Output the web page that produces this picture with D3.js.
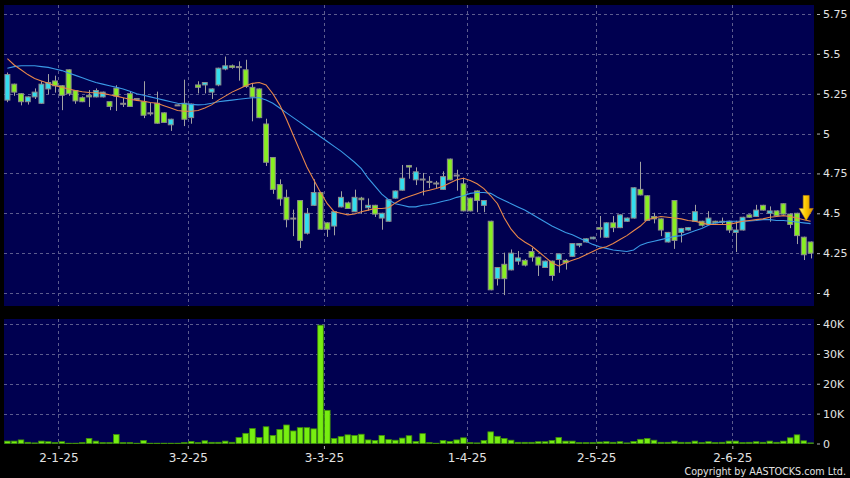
<!DOCTYPE html>
<html><head><meta charset="utf-8">
<script src="https://cdn.jsdelivr.net/npm/d3@7"></script>
<style>html,body{margin:0;padding:0;background:#000;} svg{display:block;}</style>
</head><body>
<svg id="chart" width="850" height="478"></svg>
<script>
// ---------- DATA ----------
const dates = [
"2024-12-18","2024-12-19","2024-12-20","2024-12-23","2024-12-24","2024-12-27","2024-12-30","2024-12-31",
"2025-01-02","2025-01-03","2025-01-06","2025-01-07","2025-01-08","2025-01-09","2025-01-10","2025-01-13","2025-01-14","2025-01-15","2025-01-16","2025-01-17","2025-01-20","2025-01-21","2025-01-22","2025-01-23","2025-01-24","2025-01-27","2025-01-28",
"2025-02-03","2025-02-04","2025-02-05","2025-02-06","2025-02-07","2025-02-10","2025-02-11","2025-02-12","2025-02-13","2025-02-14","2025-02-17","2025-02-18","2025-02-19","2025-02-20","2025-02-21","2025-02-24","2025-02-25","2025-02-26","2025-02-27","2025-02-28",
"2025-03-03","2025-03-04","2025-03-05","2025-03-06","2025-03-07","2025-03-10","2025-03-11","2025-03-12","2025-03-13","2025-03-14","2025-03-17","2025-03-18","2025-03-19","2025-03-20","2025-03-21","2025-03-24","2025-03-25","2025-03-26","2025-03-27","2025-03-28","2025-03-31",
"2025-04-01","2025-04-02","2025-04-03","2025-04-07","2025-04-08","2025-04-09","2025-04-10","2025-04-11","2025-04-14","2025-04-15","2025-04-16","2025-04-17","2025-04-22","2025-04-23","2025-04-24","2025-04-25","2025-04-28","2025-04-29","2025-04-30",
"2025-05-02","2025-05-06","2025-05-07","2025-05-08","2025-05-09","2025-05-12","2025-05-13","2025-05-14","2025-05-15","2025-05-16","2025-05-19","2025-05-20","2025-05-21","2025-05-22","2025-05-23","2025-05-26","2025-05-27","2025-05-28","2025-05-29","2025-05-30",
"2025-06-02","2025-06-03","2025-06-04","2025-06-05","2025-06-06","2025-06-09","2025-06-10","2025-06-11","2025-06-12","2025-06-13","2025-06-16","2025-06-17"];

const open = [5.21,5.31,5.25,5.20,5.23,5.19,5.28,5.33,5.30,5.40,
5.27,5.225,5.24,5.23,5.23,5.20,5.285,5.19,5.25,5.22,
5.20,5.13,5.19,5.13,5.055,5.18,5.19,5.10,5.305,5.305,
5.26,5.305,5.405,5.425,5.42,5.40,5.29,5.28,5.06,4.85,
4.68,4.60,4.47,4.58,4.375,4.55,4.63,4.44,4.42,4.54,
4.565,4.51,4.595,4.535,4.55,4.47,4.45,4.595,4.645,4.80,
4.71,4.715,4.70,4.69,4.65,4.84,4.74,4.685,4.595,4.64,
4.55,4.45,4.09,4.18,4.145,4.20,4.205,4.26,4.225,4.16,
4.20,4.21,4.205,4.23,4.30,4.32,4.34,4.41,4.35,4.44,
4.41,4.45,4.47,4.65,4.61,4.48,4.465,4.32,4.58,4.38,
4.395,4.45,4.45,4.43,4.45,4.45,4.45,4.38,4.395,4.49,
4.48,4.55,4.50,4.515,4.56,4.495,4.50,4.35,4.32];

const high = [5.38,5.31,5.25,5.23,5.28,5.325,5.37,5.36,5.30,5.40,
5.27,5.23,5.27,5.28,5.26,5.20,5.30,5.22,5.26,5.22,
5.325,5.19,5.26,5.13,5.09,5.18,5.335,5.185,5.325,5.32,
5.28,5.41,5.48,5.43,5.45,5.46,5.31,5.28,5.09,4.85,
4.71,4.645,4.52,4.58,4.53,4.71,4.63,4.44,4.51,4.635,
4.57,4.645,4.60,4.59,4.55,4.50,4.585,4.64,4.80,4.80,
4.785,4.75,4.73,4.70,4.76,4.84,4.77,4.72,4.595,4.64,
4.58,4.45,4.16,4.25,4.27,4.26,4.21,4.28,4.225,4.20,
4.20,4.245,4.21,4.31,4.31,4.34,4.35,4.48,4.44,4.48,
4.49,4.47,4.66,4.82,4.61,4.50,4.465,4.38,4.58,4.405,
4.41,4.55,4.45,4.51,4.45,4.47,4.45,4.45,4.475,4.49,
4.55,4.55,4.54,4.515,4.56,4.495,4.50,4.35,4.32];

const low = [5.20,5.24,5.18,5.185,5.22,5.19,5.25,5.26,5.15,5.24,
5.19,5.20,5.17,5.23,5.23,5.15,5.145,5.17,5.17,5.22,
5.10,5.115,5.065,5.07,5.02,5.18,5.05,5.065,5.255,5.255,
5.22,5.30,5.40,5.41,5.335,5.29,5.08,5.10,4.80,4.625,
4.55,4.415,4.36,4.285,4.37,4.55,4.40,4.355,4.365,4.54,
4.53,4.51,4.50,4.52,4.48,4.40,4.45,4.595,4.645,4.72,
4.68,4.615,4.66,4.66,4.65,4.71,4.645,4.515,4.515,4.51,
4.51,4.02,4.05,3.99,4.145,4.18,4.17,4.20,4.11,4.16,
4.08,4.13,4.15,4.23,4.29,4.32,4.34,4.35,4.35,4.385,
4.41,4.45,4.47,4.615,4.455,4.44,4.36,4.32,4.28,4.32,
4.395,4.45,4.42,4.43,4.44,4.43,4.38,4.26,4.395,4.475,
4.48,4.52,4.45,4.485,4.495,4.41,4.31,4.21,4.22];

const close = [5.37,5.26,5.20,5.23,5.26,5.31,5.32,5.30,5.24,5.25,
5.205,5.20,5.23,5.27,5.26,5.17,5.235,5.19,5.17,5.22,
5.115,5.13,5.065,5.07,5.09,5.18,5.09,5.185,5.29,5.32,
5.28,5.41,5.425,5.415,5.42,5.295,5.23,5.10,4.82,4.65,
4.59,4.46,4.47,4.33,4.50,4.63,4.40,4.40,4.51,4.60,
4.53,4.60,4.585,4.55,4.495,4.50,4.585,4.64,4.72,4.79,
4.76,4.715,4.70,4.69,4.73,4.71,4.74,4.515,4.515,4.58,
4.58,4.02,4.16,4.09,4.25,4.22,4.175,4.225,4.175,4.20,
4.11,4.245,4.19,4.31,4.31,4.34,4.35,4.40,4.44,4.41,
4.49,4.47,4.66,4.615,4.455,4.465,4.395,4.38,4.33,4.405,
4.41,4.51,4.425,4.47,4.44,4.45,4.395,4.395,4.475,4.475,
4.52,4.52,4.515,4.485,4.495,4.43,4.36,4.24,4.25];

const volume = [800,800,1200,400,200,800,600,300,600,100,
100,300,1700,800,300,300,3000,300,300,100,
1000,100,100,100,100,100,300,700,300,900,
400,400,800,400,2000,3400,5000,2000,5600,2700,
4700,6200,4200,5300,5300,4900,39600,11100,1700,2300,
2900,2700,3100,1200,1000,2700,1300,1100,1800,2600,
700,3300,300,100,1000,700,1200,1900,300,200,
1000,3900,2400,1700,1100,400,400,400,600,600,
1000,2000,800,800,300,300,300,500,600,400,
600,200,700,1400,1700,1100,400,400,800,400,
400,800,300,600,300,400,800,800,300,400,
600,400,800,400,800,1900,2900,900,200];

const ma10 = [5.47,5.43,5.40,5.37,5.345,5.33,5.315,5.30,5.29,5.28,
5.27,5.262,5.258,5.256,5.252,5.243,5.235,5.225,5.215,5.208,
5.203,5.195,5.19,5.175,5.16,5.145,5.14,5.14,5.145,5.16,
5.18,5.21,5.235,5.26,5.28,5.30,5.315,5.32,5.305,5.25,
5.18,5.09,4.99,4.89,4.79,4.71,4.63,4.56,4.51,4.50,
4.49,4.495,4.51,4.52,4.53,4.53,4.535,4.565,4.59,4.605,
4.62,4.635,4.645,4.655,4.67,4.69,4.71,4.72,4.705,4.685,
4.655,4.61,4.56,4.47,4.40,4.35,4.32,4.295,4.26,4.225,
4.19,4.17,4.19,4.205,4.22,4.24,4.26,4.28,4.29,4.31,
4.335,4.36,4.39,4.42,4.46,4.47,4.48,4.475,4.47,4.465,
4.455,4.45,4.44,4.43,4.43,4.43,4.43,4.44,4.45,4.455,
4.46,4.465,4.475,4.48,4.485,4.48,4.47,4.46,4.45];

const ma20 = [5.41,5.42,5.425,5.425,5.425,5.42,5.415,5.405,5.395,5.38,
5.365,5.35,5.335,5.32,5.31,5.30,5.29,5.28,5.265,5.25,
5.24,5.23,5.22,5.21,5.20,5.19,5.187,5.183,5.18,5.182,
5.19,5.20,5.205,5.21,5.215,5.22,5.225,5.225,5.21,5.19,
5.16,5.13,5.10,5.07,5.04,5.01,4.98,4.95,4.92,4.89,
4.855,4.82,4.78,4.72,4.67,4.62,4.585,4.56,4.55,4.54,
4.54,4.55,4.555,4.565,4.575,4.585,4.60,4.61,4.625,4.63,
4.63,4.625,4.60,4.58,4.56,4.54,4.52,4.495,4.47,4.445,
4.42,4.40,4.38,4.365,4.345,4.325,4.305,4.29,4.28,4.27,
4.265,4.26,4.27,4.30,4.315,4.325,4.335,4.345,4.355,4.36,
4.375,4.39,4.405,4.425,4.44,4.445,4.45,4.45,4.45,4.452,
4.455,4.46,4.46,4.455,4.455,4.45,4.445,4.44,4.435];

const priceTicks = [4,4.25,4.5,4.75,5,5.25,5.5,5.75];
const priceTickLabels = ["4","4.25","4.5","4.75","5","5.25","5.5","5.75"];
const volTicks = [0,10000,20000,30000,40000];
const volTickLabels = ["0","10K","20K","30K","40K"];
const monthStartDates = ["2025-01-02","2025-02-03","2025-03-03","2025-04-01","2025-05-02","2025-06-02"];
const monthLabels = ["2-1-25","3-2-25","3-3-25","1-4-25","2-5-25","2-6-25"];
const signalDate = "2025-06-17";
const signalPrice = 4.455;
const copyrightText = "Copyright by AASTOCKS.com Ltd.";

// ---------- LAYOUT ----------
const W = 850, H = 478;
const L = 4, R = 814;
const pTop = 5, pBot = 306, vTop = 319, vBot = 444;
const BG = "#000050";
const GRID = "#5c5c8e";
const TXT = "#e2e2e2";
const UP = "#33ddee", DOWN = "#88ee22", EDGE = "#8c8c8c";
const FONT = "DejaVu Sans, Verdana, sans-serif";

const svg = d3.select("#chart");
svg.append("rect").attr("width", W).attr("height", H).attr("fill", "#000");

const N = dates.length;
const x = d3.scaleLinear().domain([0, N]).range([L, R]);
const step = x(1) - x(0);
const cx = i => x(i + 0.5);
const idxOf = d => dates.indexOf(d);

const y = d3.scaleLinear().domain([4, 5.75]).range([293, 14]);
const vy = d3.scaleLinear().domain([0, 40000]).range([443.5, 324]);

// panels
svg.append("rect").attr("x", L).attr("y", pTop).attr("width", R - L).attr("height", pBot - pTop).attr("fill", BG);
svg.append("rect").attr("x", L).attr("y", vTop).attr("width", R - L).attr("height", vBot - vTop).attr("fill", BG);

const defs = svg.append("defs");
defs.append("clipPath").attr("id", "clipP").append("rect")
  .attr("x", L).attr("y", pTop).attr("width", R - L).attr("height", pBot - pTop);
defs.append("clipPath").attr("id", "clipV").append("rect")
  .attr("x", L).attr("y", vTop).attr("width", R - L).attr("height", vBot - vTop);
const grad = defs.append("linearGradient").attr("id", "arrowGrad")
  .attr("x1", "0%").attr("x2", "100%").attr("y1", "0%").attr("y2", "0%");
grad.append("stop").attr("offset", "0%").attr("stop-color", "#fff07a");
grad.append("stop").attr("offset", "45%").attr("stop-color", "#ffcc00");
grad.append("stop").attr("offset", "100%").attr("stop-color", "#d68a00");

const monthIdx = monthStartDates.map(idxOf);

// grid - price
const gP = svg.append("g").attr("clip-path", "url(#clipP)");
gP.selectAll("line.h").data(priceTicks).join("line")
  .attr("x1", L).attr("x2", R).attr("y1", d => Math.round(y(d)) + 0.5).attr("y2", d => Math.round(y(d)) + 0.5)
  .attr("stroke", GRID).attr("stroke-dasharray", "3,3").attr("stroke-width", 1);
gP.selectAll("line.v").data(monthIdx).join("line")
  .attr("x1", d => Math.round(x(d)) + 0.5).attr("x2", d => Math.round(x(d)) + 0.5)
  .attr("y1", pTop).attr("y2", pBot)
  .attr("stroke", GRID).attr("stroke-dasharray", "3,3").attr("stroke-width", 1);

// grid - volume
const gV = svg.append("g").attr("clip-path", "url(#clipV)");
gV.selectAll("line.h").data(volTicks.filter(v => v > 0)).join("line")
  .attr("x1", L).attr("x2", R).attr("y1", d => Math.round(vy(d)) + 0.5).attr("y2", d => Math.round(vy(d)) + 0.5)
  .attr("stroke", GRID).attr("stroke-dasharray", "3,3").attr("stroke-width", 1);
gV.selectAll("line.v").data(monthIdx).join("line")
  .attr("x1", d => Math.round(x(d)) + 0.5).attr("x2", d => Math.round(x(d)) + 0.5)
  .attr("y1", vTop).attr("y2", vBot)
  .attr("stroke", GRID).attr("stroke-dasharray", "3,3").attr("stroke-width", 1);

// volume bars
gV.selectAll("rect.vol").data(volume).join("rect")
  .attr("x", (d, i) => x(i) + 0.6)
  .attr("width", step - 1.2)
  .attr("y", d => vy(d))
  .attr("height", d => Math.max(0.5, vy(0) - vy(d)))
  .attr("fill", "#77ee11").attr("stroke", "#3f8f08").attr("stroke-width", 0.8);

// candles
const cData = dates.map((d, i) => ({i, o: open[i], h: high[i], l: low[i], c: close[i]}));
const gC = gP.append("g");
gC.selectAll("line.wick").data(cData).join("line")
  .attr("x1", d => Math.round(cx(d.i)) + 0.5).attr("x2", d => Math.round(cx(d.i)) + 0.5)
  .attr("y1", d => y(d.h) - 0.5).attr("y2", d => y(d.l) + 0.5)
  .attr("stroke", "#a2a2a2").attr("stroke-width", 1);
const bodyW = step - 1.9;
gC.selectAll("rect.body").data(cData).join("rect")
  .attr("x", d => cx(d.i) - bodyW / 2)
  .attr("width", bodyW)
  .attr("y", d => y(Math.max(d.o, d.c)))
  .attr("height", d => Math.max(1, Math.abs(y(d.o) - y(d.c))))
  .attr("fill", d => d.c > d.o ? UP : (d.c < d.o ? DOWN : "#9a9a9a"))
  .attr("stroke", EDGE).attr("stroke-width", 1);

// moving averages
const line = arr => d3.line().x((d, i) => cx(i)).y(d => y(d)).curve(d3.curveLinear)(arr);
gP.append("path").attr("d", line(ma20)).attr("fill", "none").attr("stroke", "#3a9ae6").attr("stroke-width", 1.1);
gP.append("path").attr("d", line(ma10)).attr("fill", "none").attr("stroke", "#e8874a").attr("stroke-width", 1.1);

// signal arrow
const ax = x(idxOf(signalDate)) - 1, ay = y(signalPrice);
svg.append("path")
  .attr("transform", `translate(${ax},${ay})`)
  .attr("d", "M-3,-25 L3,-25 L3,-12 L7,-12 L0,0 L-7,-12 L-3,-12 Z")
  .attr("fill", "url(#arrowGrad)").attr("stroke", "#c98a00").attr("stroke-width", 0.6);

// right axes
const axP = d3.axisRight(y).tickValues(priceTicks).tickFormat((d, i) => priceTickLabels[i]).tickSize(3).tickPadding(3);
const gAP = svg.append("g").attr("transform", `translate(${R + 3},0)`).call(axP);
const axV = d3.axisRight(vy).tickValues(volTicks).tickFormat((d, i) => volTickLabels[i]).tickSize(3).tickPadding(3);
const gAV = svg.append("g").attr("transform", `translate(${R + 3},0)`).call(axV);
[gAP, gAV].forEach(g => {
  g.select(".domain").remove();
  g.selectAll(".tick line").attr("stroke", "#b0b0b0");
  g.selectAll(".tick text").attr("fill", TXT).attr("font-family", FONT).attr("font-size", 11);
});

// bottom axis
const axX = d3.axisBottom(x).tickValues(monthIdx).tickFormat((d, i) => monthLabels[i]).tickSize(3).tickPadding(4);
const gAX = svg.append("g").attr("transform", `translate(0,${vBot + 2})`).call(axX);
gAX.select(".domain").remove();
gAX.selectAll(".tick line").attr("stroke", "#b0b0b0");
gAX.selectAll(".tick text").attr("fill", TXT).attr("font-family", FONT).attr("font-size", 12);

// copyright
svg.append("text").attr("x", 846).attr("y", 474.5).attr("text-anchor", "end")
  .attr("fill", TXT).attr("font-family", FONT).attr("font-size", 9.6).text(copyrightText);
</script>
</body></html>
